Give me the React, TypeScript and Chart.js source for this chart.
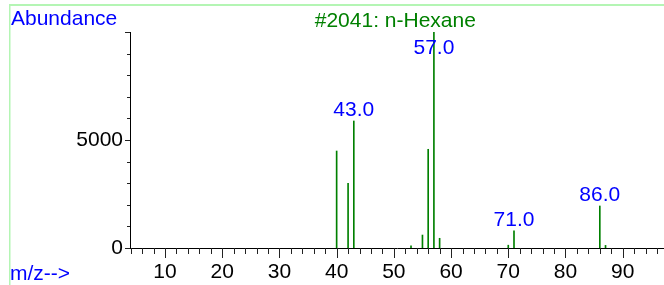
import React, { useEffect, useRef } from 'react';
import { Chart, registerables } from 'chart.js';

Chart.register(...registerables);

// ---- data ----
const mzValues = [40, 42, 43, 53, 55, 56, 57, 58, 70, 71, 86, 87];
const abundance = [4490, 2995, 5880, 100, 600, 4570, 9999, 450, 130, 800, 1945, 120];
const labeledPeaks = [43, 57, 71, 86];
const yLabeledTicks = [0, 5000];
const titleText = '#2041: n-Hexane';
const yAxisTitle = 'Abundance';
const xAxisTitle = 'm/z-->';
const xMin = 3.88;
const xMax = 97.22;
const yMin = 0;
const yMax = 10000;

const FONT = '"Liberation Sans", Arial, sans-serif';
const FS = 21;

export default function App() {
  const ref = useRef<HTMLCanvasElement>(null);

  useEffect(() => {
    const canvas = ref.current;
    if (!canvas) return;

    const decor = {
      id: 'decor',
      beforeDraw(chart: any) {
        const ctx = chart.ctx;
        ctx.save();
        ctx.fillStyle = '#ffffff';
        ctx.fillRect(0, 0, chart.width, chart.height);
        ctx.fillStyle = '#b4f5b4';
        ctx.fillRect(9, 4, chart.width - 9, 2);
        ctx.fillRect(9, 4, 1.5, chart.height - 4);
        ctx.restore();
      },
      afterDraw(chart: any) {
        const ctx = chart.ctx;
        const xs = chart.scales.x;
        const ys = chart.scales.y;
        const area = chart.chartArea;
        ctx.save();
        // tick marks
        ctx.strokeStyle = '#222';
        ctx.lineWidth = 1;
        ctx.beginPath();
        for (let v = Math.ceil(xMin / 2) * 2; v <= xMax; v += 2) {
          const px = Math.round(xs.getPixelForValue(v)) + 0.5;
          const len = v % 10 === 0 ? 10 : 6;
          ctx.moveTo(px, area.bottom);
          ctx.lineTo(px, area.bottom + len);
        }
        for (let v = yMin; v <= yMax; v += 1000) {
          const py = Math.round(ys.getPixelForValue(v)) + 0.5;
          const len = v % 5000 === 0 ? 5 : 3;
          ctx.moveTo(area.left, py);
          ctx.lineTo(area.left - len, py);
        }
        ctx.stroke();

        // peak labels
        ctx.font = `${FS}px ${FONT}`;
        ctx.textAlign = 'center';
        ctx.textBaseline = 'alphabetic';
        ctx.fillStyle = '#0000ff';
        labeledPeaks.forEach((m) => {
          const i = mzValues.indexOf(m);
          if (i < 0) return;
          const px = xs.getPixelForValue(m);
          const top = ys.getPixelForValue(abundance[i]);
          const base = Math.max(top - 5, area.top + 21.5);
          ctx.fillText(m.toFixed(1), px, base);
        });

        // titles
        ctx.textAlign = 'left';
        ctx.fillText(yAxisTitle, 11, 25);
        ctx.fillText(xAxisTitle, 10, 280);
        ctx.textAlign = 'center';
        ctx.fillStyle = '#008000';
        ctx.fillText(titleText, 395.3, 26.7);
        ctx.restore();
      },
    };

    const chart = new Chart(canvas, {
      type: 'bar',
      data: {
        datasets: [
          {
            data: mzValues.map((m, i) => ({ x: m, y: abundance[i] })),
            backgroundColor: '#008000',
            borderWidth: 0,
            barThickness: 1,
          } as any,
        ],
      },
      options: {
        responsive: false,
        maintainAspectRatio: false,
        animation: false,
        layout: { padding: { top: 32, left: 0, right: 0, bottom: 0 } },
        plugins: {
          legend: { display: false },
          tooltip: { enabled: false },
          title: { display: false },
        },
        scales: {
          x: {
            type: 'linear',
            min: xMin,
            max: xMax,
            offset: false,
            grid: { display: false, drawTicks: false, offset: false },
            border: { display: true, color: '#000', width: 1 },
            ticks: {
              stepSize: 10,
              includeBounds: false,
              autoSkip: false,
              maxRotation: 0,
              padding: 12,
              color: '#000',
              font: { family: FONT, size: FS },
            },
            afterFit: (s: any) => {
              s.height = 37;
            },
          },
          y: {
            type: 'linear',
            min: yMin,
            max: yMax,
            grid: { display: false, drawTicks: false },
            border: { display: true, color: '#000', width: 1 },
            ticks: {
              stepSize: 5000,
              includeBounds: false,
              padding: 7,
              color: '#000',
              font: { family: FONT, size: FS },
              callback: (v: any) => (yLabeledTicks.includes(Number(v)) ? String(v) : null),
            },
            afterFit: (s: any) => {
              s.width = 130;
            },
          },
        },
      } as any,
      plugins: [decor],
    });

    return () => chart.destroy();
  }, []);

  return (
    <div style={{ position: 'fixed', left: 0, top: 0, width: 664, height: 285, background: '#fff' }}>
      <canvas ref={ref} width={664} height={285} style={{ display: 'block', width: 664, height: 285 }} />
    </div>
  );
}
